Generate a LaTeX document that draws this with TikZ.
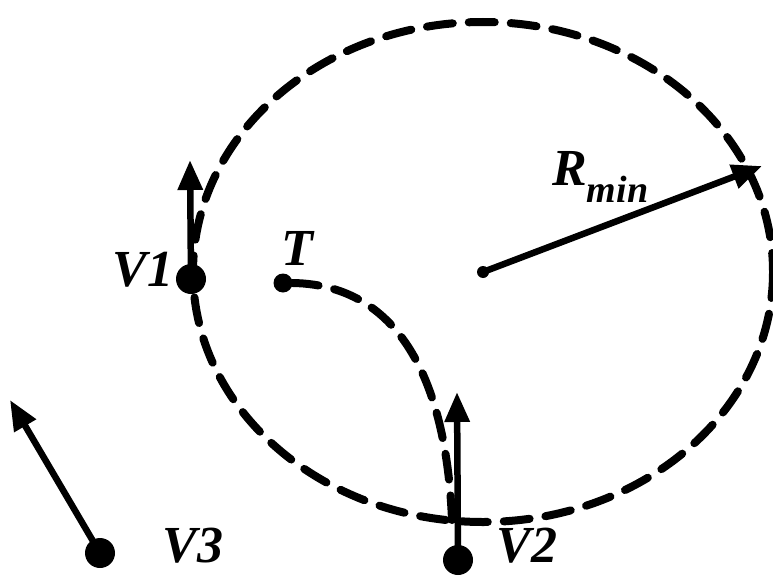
\documentclass[tikz,border=0pt]{standalone}
\usepackage{fontspec}
\setmainfont{Liberation Serif}
\usetikzlibrary{arrows.meta}

\begin{document}
\begin{tikzpicture}[x=1pt, y=-1pt,
        vdot/.style={circle, fill=black, inner sep=0pt, minimum size=30pt},
        tdot/.style={circle, fill=black, inner sep=0pt, minimum size=19pt},
        cdot/.style={circle, fill=black, inner sep=0pt, minimum size=12pt},
        lbl/.style={font=\fontsize{52}{56}\selectfont\bfseries\itshape, inner sep=0pt},
        vec/.style={-{Triangle[length=30pt,width=24pt]}, line width=6.5pt},
        track/.style={dash pattern=on 26pt off 16pt, line width=8pt, line cap=round}
    ]
        \useasboundingbox (0,0) rectangle (773,578);
        % vehicles, target and centre
        \node[vdot] (v1) at (191,279) {};
        \node[tdot] (t) at (283,283) {};
        \node[vdot] (v2) at (458,560) {};
        \node[vdot] (v3) at (100,553) {};
        \node[cdot] (c) at (483,272) {};
        \coordinate (v1h) at (190,160);
        \coordinate (v2h) at (457,392);
        \coordinate (v3h) at (10,400);
        \coordinate (rim) at (762,166);
        % labels
        \node[lbl] (v1l) at (143,270) {V1};
        \node[lbl] (tl) at (297,248) {T};
        \node[lbl] (v2l) at (527,546) {V2};
        \node[lbl] (v3l) at (193,546) {V3};
        \node[lbl, anchor=base west] (rl) at (552,185) {R\textsubscript{\raisebox{-0.35ex}{\fontsize{38}{40}\selectfont\bfseries\itshape min}}};
        % turning circle and target track
        \draw[track] (c) ellipse [x radius=290, y radius=250];
        \draw[track] (t.east) .. controls (410,285) and (447,400) .. (452,520);
        % velocity vectors
        \draw[vec] (v1.center) -- (v1h);
        \draw[vec] (v2.center) -- (v2h);
        \draw[vec] (v3.center) -- (v3h);
        \draw[vec] (c.center) -- (rim);
    \end{tikzpicture}
\end{document}
